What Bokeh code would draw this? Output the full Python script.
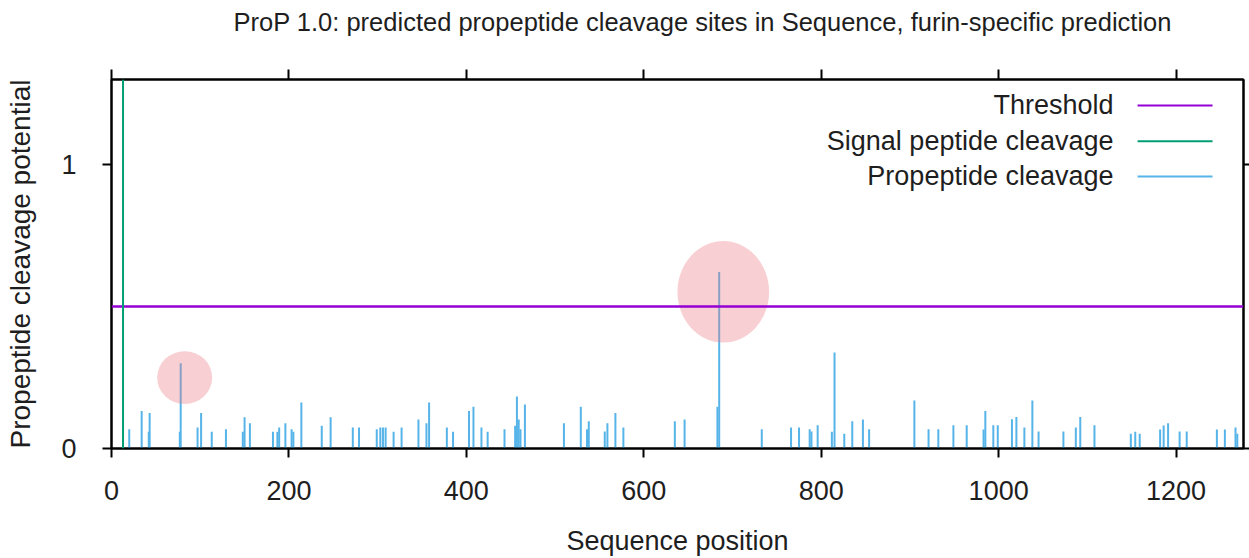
from bokeh.plotting import figure
from bokeh.models import Span, Label, Arrow, LinearAxis, Range1d, ColumnDataSource
from bokeh.embed import file_html
from bokeh.resources import INLINE

# ---- data ----
positions = [20, 34, 42, 43, 77, 78, 97, 101, 113, 129, 148, 150, 156, 182, 187, 189, 196,
             203, 205, 214, 237, 247, 272, 279, 299, 303, 306, 309, 318, 327, 346, 355, 358,
             378, 385, 403, 408, 417, 424, 443, 455, 457, 459, 461, 466, 510, 529, 536, 538,
             556, 559, 568, 577, 635, 646, 683, 685, 733, 766, 775, 787, 789, 796, 812, 815,
             826, 835, 847, 854, 905, 921, 932, 949, 964, 983, 985, 994, 999, 1015, 1020,
             1029, 1038, 1045, 1073, 1087, 1092, 1108, 1149, 1154, 1159, 1182, 1186, 1191,
             1204, 1212, 1246, 1255, 1267, 1269]
potentials = [0.068, 0.132, 0.059, 0.125, 0.059, 0.300, 0.074, 0.125, 0.059, 0.068, 0.059,
              0.110, 0.089, 0.059, 0.059, 0.074, 0.089, 0.068, 0.059, 0.162, 0.080, 0.110,
              0.074, 0.074, 0.068, 0.074, 0.074, 0.074, 0.059, 0.074, 0.102, 0.089, 0.162,
              0.074, 0.059, 0.132, 0.147, 0.074, 0.059, 0.068, 0.080, 0.183, 0.102, 0.068,
              0.155, 0.089, 0.147, 0.068, 0.096, 0.060, 0.089, 0.125, 0.074, 0.096, 0.102,
              0.147, 0.622, 0.068, 0.074, 0.074, 0.068, 0.060, 0.082, 0.059, 0.338, 0.052,
              0.096, 0.102, 0.068, 0.169, 0.068, 0.068, 0.082, 0.082, 0.067, 0.132, 0.082,
              0.082, 0.103, 0.111, 0.074, 0.169, 0.060, 0.060, 0.074, 0.111, 0.082, 0.052,
              0.059, 0.052, 0.067, 0.081, 0.089, 0.060, 0.060, 0.067, 0.067, 0.074, 0.052]
threshold = 0.5
signal_site = 13
seq_length = 1276
y_max = 1.3

# highlighted sites (pink markers)
highlight_x = [82.5, 689.6]
highlight_y = [0.250, 0.552]
highlight_w = [62.0, 103.3]
highlight_h = [0.186, 0.358]

x_ticks = [0, 200, 400, 600, 800, 1000, 1200]
y_ticks = [0, 1]

legend_names = ["Threshold", "Signal peptide cleavage", "Propeptide cleavage"]
legend_colors = ["#9400d3", "#009e73", "#56b4e9"]

FONT = "Liberation Sans"
TXT = "#1e1e1e"

p = figure(width=1249, height=558, x_range=Range1d(0, seq_length), y_range=Range1d(0, y_max),
           output_backend="svg", toolbar_location=None,
           min_border_left=111, min_border_right=6, min_border_top=79, min_border_bottom=110,
           x_axis_label="Sequence position", y_axis_label="Propeptide cleavage potential")

p.title.text = "ProP 1.0: predicted propeptide cleavage sites in Sequence, furin-specific prediction"
p.title.text_font = FONT
p.title.text_font_size = "25.5px"
p.title.text_font_style = "normal"
p.title.text_color = TXT
p.title.align = "left"
p.title.offset = 122
p.title.standoff = 8

p.xgrid.visible = False
p.ygrid.visible = False
p.outline_line_color = "black"
p.outline_line_width = 2
p.outline_line_alpha = 1
p.background_fill_color = "white"
p.border_fill_color = "white"

for ax in (p.xaxis[0], p.yaxis[0]):
    ax.axis_label_text_font = FONT
    ax.axis_label_text_font_size = "27px"
    ax.axis_label_text_font_style = "normal"
    ax.axis_label_text_color = TXT
    ax.major_label_text_font = FONT
    ax.major_label_text_font_size = "27px"
    ax.major_label_text_color = TXT
    ax.minor_tick_line_color = None
    ax.major_tick_in = 0
    ax.major_tick_out = 9
    ax.major_tick_line_width = 2
    ax.axis_line_width = 2
    ax.axis_line_color = "black"
    ax.major_tick_line_color = "black"

p.yaxis.axis_label_text_font_size = "28px"
p.xaxis.ticker = x_ticks
p.yaxis.ticker = y_ticks
p.xaxis.major_label_standoff = 23
p.xaxis.axis_label_standoff = 23
p.yaxis.major_label_standoff = 26
p.yaxis.axis_label_standoff = 22

# mirrored ticks on the top edge
top_axis = LinearAxis(ticker=x_ticks, major_label_text_font_size="1px", major_label_text_color=None,
                      major_label_standoff=0,
                      major_tick_in=0, major_tick_out=10, major_tick_line_width=2,
                      minor_tick_line_color=None, axis_line_width=2)
p.add_layout(top_axis, "above")
# invisible spacer panel between the top ticks and the title
spacer_axis = LinearAxis(ticker=x_ticks, major_label_text_font_size="1px", major_label_text_color=None,
                         major_label_standoff=0, major_tick_in=0, major_tick_out=30,
                         major_tick_line_color=None, minor_tick_line_color=None, axis_line_color=None)
p.add_layout(spacer_axis, "above")

# mirrored ticks on the right edge
right_axis = LinearAxis(ticker=y_ticks, major_label_text_font_size="1px", major_label_text_color=None,
                        major_label_standoff=0,
                        major_tick_in=0, major_tick_out=6, major_tick_line_width=2,
                        minor_tick_line_color=None, axis_line_width=2)
p.add_layout(right_axis, "right")

# threshold and signal peptide lines
p.add_layout(Span(location=threshold, dimension="width", line_color=legend_colors[0], line_width=2.5))
p.add_layout(Span(location=signal_site, dimension="height", line_color=legend_colors[1], line_width=2))

# propeptide cleavage potentials as impulses
src = ColumnDataSource(dict(x=positions, y=potentials, y0=[0] * len(positions)))
p.segment(x0="x", y0="y0", x1="x", y1="y", source=src, line_color=legend_colors[2], line_width=2)

# pink highlight markers
p.ellipse(x=highlight_x, y=highlight_y, width=highlight_w, height=highlight_h,
          fill_color="#eb7882", fill_alpha=0.35, line_color=None)

# legend (text, then sample line)
legend_text_x = 1129.5
legend_line = (1156.6, 1241.1)
legend_rows = [1.2086, 1.0828, 0.9584]
for name, col, yy in zip(legend_names, legend_colors, legend_rows):
    p.add_layout(Label(x=legend_text_x, y=yy, text=name, text_align="right", text_baseline="middle",
                       text_font=FONT, text_font_size="27px", text_color=TXT))
    p.add_layout(Arrow(x_start=legend_line[0], y_start=yy, x_end=legend_line[1], y_end=yy,
                       start=None, end=None, line_color=col, line_width=2))

open("out.html", "w").write(file_html(p, INLINE))
